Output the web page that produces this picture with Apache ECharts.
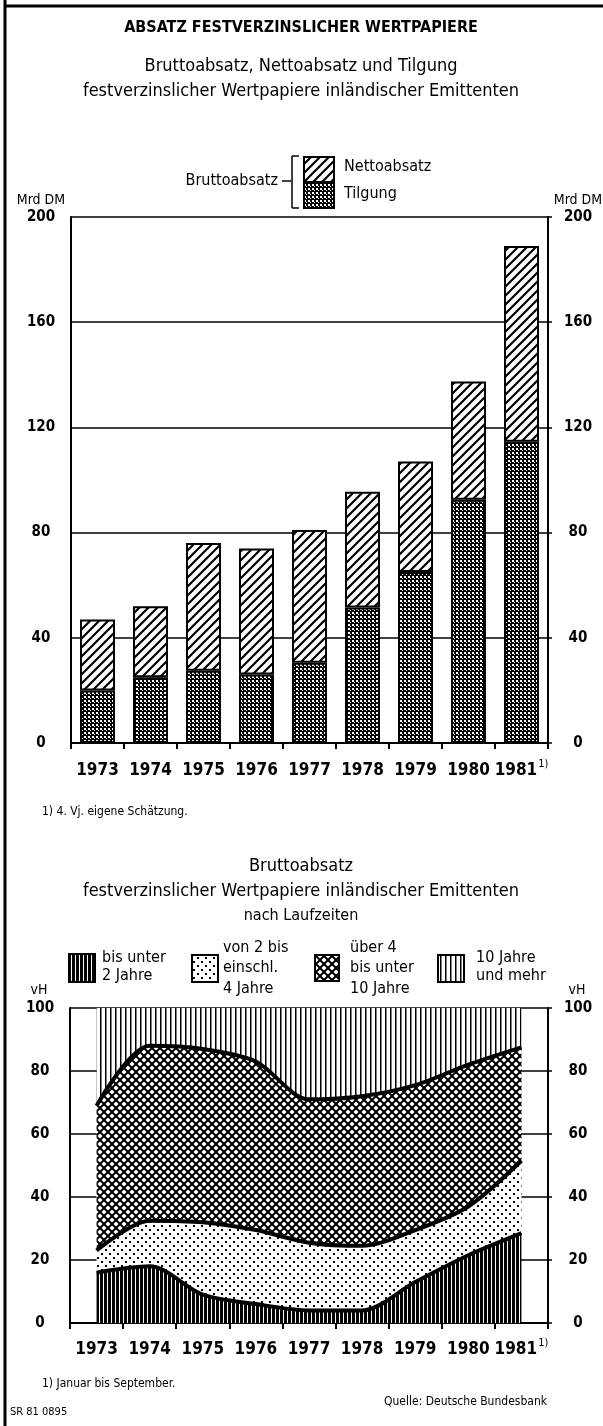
<!DOCTYPE html>
<html>
<head>
<meta charset="utf-8">
<script src="https://cdn.jsdelivr.net/npm/echarts@6/dist/echarts.min.js"></script>
<style>
  html, body { margin: 0; padding: 0; background: #fff; }
  #main { width: 603px; height: 1426px; }
</style>
</head>
<body>
<div id="main"></div>
<script>
  // Jahre (1981: 4. Vj. geschaetzt bzw. Januar bis September)
  var jahre = ['1973', '1974', '1975', '1976', '1977', '1978', '1979', '1980', '1981'];

  // oben: Mrd DM
  var tilgung     = [20, 25, 27.5, 26, 30.5, 51.5, 65, 92.5, 114.5];
  var nettoabsatz = [27, 27, 48.5, 48, 50.5, 44, 42, 45, 74.5];
  var achseMrd    = [0, 200, 40];

  // unten: vH nach Laufzeiten
  var bisUnter2    = [16, 18, 9, 6, 4, 4, 13, 21.5, 28.5];
  var von2bis4     = [7, 14.5, 23, 23.5, 21.5, 20.5, 16.5, 15.5, 23];
  var ueber4bis10  = [46, 55.5, 55, 53.5, 45.5, 47.5, 46, 45, 36];
  var zehnUndMehr  = [31, 12, 13, 17, 29, 28, 24.5, 18, 12.5];
  var achseVH      = [0, 100, 20];

  var FONT = '"Liberation Sans Narrow","DejaVu Sans Condensed","Roboto Condensed","Arial Narrow",sans-serif';

  // kleine Kacheln fuer die Schraffuren
  function muster(w, h, draw) {
    var c = document.createElement('canvas');
    c.width = w; c.height = h;
    var ctx = c.getContext('2d');
    ctx.fillStyle = '#fff';
    ctx.fillRect(0, 0, w, h);
    ctx.fillStyle = '#000';
    ctx.strokeStyle = '#000';
    draw(ctx, w, h);
    return { image: c, repeat: 'repeat' };
  }

  var schraeg = muster(9, 9, function (ctx, w, h) {
    ctx.lineWidth = 2.2;
    ctx.beginPath();
    ctx.moveTo(-1, h + 1); ctx.lineTo(w + 1, -1);
    ctx.moveTo(-1, 1); ctx.lineTo(1, -1);
    ctx.moveTo(w - 1, h + 1); ctx.lineTo(w + 1, h - 1);
    ctx.stroke();
  });
  var punkteDunkel = muster(4, 4, function (ctx, w, h) {
    ctx.fillRect(0, 0, w, h);
    ctx.fillStyle = '#fff';
    ctx.fillRect(0, 0, 2, 2);
    ctx.fillRect(2, 2, 1, 1);
  });
  var senkDicht = muster(4, 4, function (ctx) {
    ctx.fillRect(0, 0, 3, 4);
  });
  var punkteHell = muster(8, 8, function (ctx) {
    ctx.fillRect(1, 1, 2, 2);
    ctx.fillRect(5, 5, 2, 2);
  });
  var rauten = muster(8, 8, function (ctx, w, h) {
    ctx.lineWidth = 2;
    ctx.beginPath();
    ctx.moveTo(-1, -1); ctx.lineTo(w + 1, h + 1);
    ctx.moveTo(-1, h + 1); ctx.lineTo(w + 1, -1);
    ctx.stroke();
  });
  var senkLocker = muster(5, 4, function (ctx) {
    ctx.fillRect(0, 0, 1.5, 4);
  });

  function txt(x, y, s, size, opt) {
    opt = opt || {};
    return {
      type: 'text', x: x, y: y, silent: true,
      style: {
        text: s, fill: '#000', fontFamily: FONT, fontSize: size,
        fontWeight: opt.bold ? 'bold' : 'normal',
        align: opt.align || 'left', verticalAlign: 'middle'
      }
    };
  }
  function kasten(x, y, w, h, fill) {
    return { type: 'rect', shape: { x: x, y: y, width: w, height: h }, silent: true,
      style: { fill: fill, stroke: '#000', lineWidth: 2 } };
  }
  function linie(x1, y1, x2, y2, w) {
    return { type: 'line', shape: { x1: x1, y1: y1, x2: x2, y2: y2 }, silent: true,
      style: { stroke: '#000', lineWidth: w || 1.5 } };
  }

  function xAchse(i, abstand) {
    return {
      gridIndex: i, type: 'category', data: jahre, boundaryGap: true,
      axisLine: { lineStyle: { color: '#000', width: 2 } },
      axisTick: { show: true, length: 6, lineStyle: { color: '#000', width: 2 } },
      axisLabel: {
        interval: 0, margin: abstand, color: '#000',
        formatter: function (v) { return '{j|' + v + '}' + (v === '1981' ? '{sup|1)}' : ''); },
        rich: {
          j: { fontFamily: FONT, fontSize: 17, fontWeight: 'bold', color: '#000', lineHeight: 20, verticalAlign: 'bottom' },
          sup: { fontFamily: FONT, fontSize: 11, color: '#000', lineHeight: 20, verticalAlign: 'top', padding: [0, 0, 0, 1] }
        }
      }
    };
  }
  function yAchse(i, a, seite, grid) {
    return {
      gridIndex: i, type: 'value', position: seite, min: a[0], max: a[1], interval: a[2],
      axisLine: { show: true, lineStyle: { color: '#000', width: 2 } },
      axisTick: { show: seite === 'right', length: 4, lineStyle: { color: '#000', width: 1.5 } },
      splitLine: { show: grid, lineStyle: { color: '#000', width: 1.5 } },
      axisLabel: { margin: 30, color: '#000', fontFamily: FONT, fontSize: 15, fontWeight: 'bold', align: 'center' }
    };
  }

  function flaeche(name, data, fill, z, lw) {
    return {
      type: 'line', name: name, xAxisIndex: 1, yAxisIndex: 2, stack: 'lauf',
      data: data, symbol: 'none', showSymbol: false, smooth: 0.3, z: z,
      lineStyle: { color: '#000', width: lw },
      itemStyle: { color: '#000' },
      areaStyle: { color: fill, opacity: 1 }
    };
  }

  var chart = echarts.init(document.getElementById('main'));
  chart.setOption({
    animation: false,
    backgroundColor: '#fff',
    grid: [
      { left: 71, top: 217, width: 477, height: 526 },
      { left: 70, top: 1008, width: 478, height: 315 }
    ],
    xAxis: [xAchse(0, 16), xAchse(1, 15)],
    yAxis: [
      yAchse(0, achseMrd, 'left', true), yAchse(0, achseMrd, 'right', false),
      yAchse(1, achseVH, 'left', true), yAchse(1, achseVH, 'right', false)
    ],
    series: [
      { type: 'bar', name: 'Tilgung', xAxisIndex: 0, yAxisIndex: 0, stack: 'brutto',
        data: tilgung, barWidth: 35,
        itemStyle: { color: punkteDunkel, borderColor: '#000', borderWidth: 2 } },
      { type: 'bar', name: 'Nettoabsatz', xAxisIndex: 0, yAxisIndex: 0, stack: 'brutto',
        data: nettoabsatz, barWidth: 35,
        itemStyle: { color: schraeg, borderColor: '#000', borderWidth: 2 } },
      flaeche('bis unter 2 Jahre', bisUnter2, senkDicht, 6, 4),
      flaeche('von 2 bis einschl. 4 Jahre', von2bis4, punkteHell, 5, 4),
      flaeche('über 4 bis unter 10 Jahre', ueber4bis10, rauten, 4, 4),
      flaeche('10 Jahre und mehr', zehnUndMehr, senkLocker, 3, 0)
    ],
    graphic: [
      linie(5, 0, 5, 1426, 3),
      linie(4, 6, 603, 6, 3),
      txt(301, 28, 'ABSATZ FESTVERZINSLICHER WERTPAPIERE', 16, { bold: true, align: 'center' }),
      txt(301, 66, 'Bruttoabsatz, Nettoabsatz und Tilgung', 18, { align: 'center' }),
      txt(301, 91, 'festverzinslicher Wertpapiere inländischer Emittenten', 18, { align: 'center' }),
      // Legende oben
      txt(278, 181, 'Bruttoabsatz', 16, { align: 'right' }),
      linie(282, 181, 291, 181),
      linie(292, 156, 292, 208),
      linie(292, 156, 299, 156),
      linie(292, 208, 299, 208),
      kasten(304, 157, 30, 25, schraeg),
      kasten(304, 182, 30, 26, punkteDunkel),
      txt(344, 167, 'Nettoabsatz', 16),
      txt(344, 194, 'Tilgung', 16),
      txt(41, 200, 'Mrd DM', 14, { align: 'center' }),
      txt(578, 200, 'Mrd DM', 14, { align: 'center' }),
      txt(42, 812, '1) 4. Vj. eigene Schätzung.', 12),
      // unten
      txt(301, 866, 'Bruttoabsatz', 18, { align: 'center' }),
      txt(301, 891, 'festverzinslicher Wertpapiere inländischer Emittenten', 18, { align: 'center' }),
      txt(301, 916, 'nach Laufzeiten', 16, { align: 'center' }),
      kasten(69, 954, 26, 28, senkDicht),
      txt(102, 958, 'bis unter', 16),
      txt(102, 976, '2 Jahre', 16),
      kasten(192, 955, 26, 27, punkteHell),
      txt(223, 948, 'von 2 bis', 16),
      txt(223, 968, 'einschl.', 16),
      txt(223, 989, '4 Jahre', 16),
      kasten(315, 955, 24, 26, rauten),
      txt(350, 948, 'über 4', 16),
      txt(350, 968, 'bis unter', 16),
      txt(350, 989, '10 Jahre', 16),
      kasten(438, 955, 26, 27, senkLocker),
      txt(476, 958, '10 Jahre', 16),
      txt(476, 976, 'und mehr', 16),
      txt(39, 990, 'vH', 14, { align: 'center' }),
      txt(577, 990, 'vH', 14, { align: 'center' }),
      txt(42, 1384, '1) Januar bis September.', 12),
      txt(547, 1402, 'Quelle: Deutsche Bundesbank', 12, { align: 'right' }),
      txt(10, 1412, 'SR 81 0895', 11)
    ]
  });
</script>
</body>
</html>
